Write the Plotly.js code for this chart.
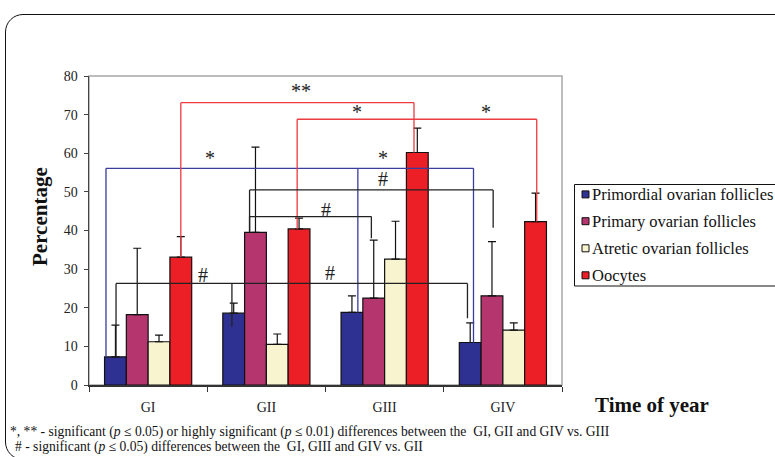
<!DOCTYPE html>
<html>
<head>
<meta charset="utf-8">
<script src="https://cdn.plot.ly/plotly-3.0.1.min.js"></script>
<style>
html,body{margin:0;padding:0;background:#fff;}
#wrap{position:relative;width:775px;height:457px;overflow:hidden;}
#chart{position:absolute;left:0;top:0;width:830px;height:457px;}
#frame{position:absolute;left:5px;top:14px;width:820px;height:444px;border:1.3px solid #111;border-radius:18px;pointer-events:none;}
</style>
</head>
<body>
<div id="wrap"><div id="chart"></div><div id="frame"></div></div>
<script>
// ---- data ----
const categories = ['GI', 'GII', 'GIII', 'GIV'];
const seriesNames = ['Primordial ovarian follicles', 'Primary ovarian follicles', 'Atretic ovarian follicles', 'Oocytes'];
const primordial = [7.3, 18.6, 18.8, 11.0];
const primordialErr = [8.2, 2.6, 4.3, 5.1];
const primary = [18.2, 39.5, 22.5, 23.1];
const primaryErr = [17.2, 22.1, 15.0, 14.0];
const atretic = [11.2, 10.5, 32.6, 14.2];
const atreticErr = [1.7, 2.7, 9.8, 1.9];
const oocytes = [33.1, 40.4, 60.2, 42.3];
const oocytesErr = [5.3, 2.8, 6.3, 7.4];
const yTicks = [0, 10, 20, 30, 40, 50, 60, 70, 80];

// significance brackets: top level, legs [group, series, nudge, bottom level]
const bracketTops = [56.1, 73.1, 68.8, 50.5, 43.6, 26.3];
const bracketLegs = [
  [[0,0,-0.08,7.3],[2,0,0.05,18.8],[3,0,0.028,11.0]],
  [[0,3,0,33.1],[2,3,-0.028,60.2]],
  [[1,3,-0.016,40.4],[3,3,0.01,42.3]],
  [[1,1,-0.05,39.5],[3,1,0.01,40.7]],
  [[1,1,-0.05,39.5],[2,1,-0.02,38.0]],
  [[0,0,0.005,7.3],[1,0,-0.015,15.1],[3,0,-0.023,17.3]]
];
const bracketColors = ['#3a3d9e', '#ee3a42', '#ee3a42', '#222', '#222', '#222'];
const markTexts = ['*', '*', '**', '*', '*', '#', '#', '#', '#'];
const markX = [0.525, 1.989, 1.293, 1.763, 2.856, 1.989, 1.5, 0.464, 1.536];
const markY = [58.9, 58.9, 76.2, 70.6, 70.6, 53.3, 45.3, 28.5, 28.9];
const footnotes = [
  '*, ** - significant (<i>p</i> ≤ 0.05) or highly significant (<i>p</i> ≤ 0.01) differences between the  GI, GII and GIV vs. GIII',
  '# - significant (<i>p</i> ≤ 0.05) differences between the  GI, GIII and GIV vs. GII'
];

// ---- build ----
const colors = ['#2e3192', '#b5366f', '#f8f4cf', '#ec1f27'];
const vals = [primordial, primary, atretic, oocytes];
const errs = [primordialErr, primaryErr, atreticErr, oocytesErr];
const bargap = 0.263;
const bw = (1 - bargap) / 4;
const serif = 'Liberation Serif';
const PW = 473, PH = 309, PL = 89, PB = 385;
const px = v => (v - PL) / PW;
const py = v => (PB - v) / PH;

const traces = vals.map((v, i) => ({
  type: 'bar', name: seriesNames[i], x: categories, y: v, showlegend: false,
  marker: {color: colors[i], line: {color: '#111', width: 1.2}},
  error_y: {type: 'data', array: errs[i], arrayminus: errs[i].map(() => 0), symmetric: false,
            color: '#111', thickness: 1.2, width: 4}
}));

const shapes = [
  {type: 'rect', xref: 'paper', yref: 'paper', x0: 0, x1: 1, y0: 0, y1: 1,
   line: {color: '#a8a8a8', width: 1.5}, layer: 'below'},
  {type: 'rect', xref: 'paper', yref: 'paper', x0: px(574.5), x1: px(820), y0: py(286), y1: py(184.5),
   line: {color: '#111', width: 1}, layer: 'below'}
];
const legendY = [194.4, 221.2, 248.3, 275.3];
seriesNames.forEach((n, i) => {
  shapes.push({type: 'rect', xref: 'paper', yref: 'paper', x0: px(582), x1: px(589),
    y0: py(legendY[i] + 3.5), y1: py(legendY[i] - 3.5), fillcolor: colors[i],
    line: {color: '#111', width: 1}, layer: 'above'});
});
bracketLegs.forEach((legs, k) => {
  const top = bracketTops[k];
  const xs = legs.map(l => l[0] + (l[1] - 1.5) * bw + l[2]);
  let p = 'M' + Math.min(...xs) + ',' + top + ' L' + Math.max(...xs) + ',' + top;
  legs.forEach((l, j) => { p += ' M' + xs[j] + ',' + top + ' L' + xs[j] + ',' + l[3]; });
  shapes.push({type: 'path', xref: 'x', yref: 'y', path: p, line: {color: bracketColors[k], width: 1.3}, layer: 'above'});
});

const annotations = markTexts.map((t, i) => ({
  x: markX[i], y: markY[i], xref: 'x', yref: 'y', text: t, showarrow: false,
  xanchor: 'center', yanchor: 'middle',
  font: {family: serif, size: 20, color: '#222'}
}));
seriesNames.forEach((n, i) => {
  annotations.push({xref: 'paper', yref: 'paper', x: px(589.5), y: py(legendY[i] + 0.5), xanchor: 'left', yanchor: 'middle',
    text: n, showarrow: false, font: {family: serif, size: 16.5, color: '#111'}});
});
annotations.push(
  {xref: 'paper', yref: 'paper', x: px(40), y: py(217), xanchor: 'center', yanchor: 'middle',
   text: '<b>Percentage</b>', textangle: -90, showarrow: false, font: {family: serif, size: 21, color: '#111'}},
  {xref: 'paper', yref: 'paper', x: px(652), y: py(405), xanchor: 'center', yanchor: 'middle',
   text: '<b>Time of year</b>', showarrow: false, font: {family: serif, size: 21, color: '#111'}},
  {xref: 'paper', yref: 'paper', x: px(8), xanchor: 'left', yanchor: 'middle', y: py(432),
   text: footnotes[0], showarrow: false, font: {family: serif, size: 13.6, color: '#111'}},
  {xref: 'paper', yref: 'paper', x: px(13), xanchor: 'left', yanchor: 'middle', y: py(446.5),
   text: footnotes[1], showarrow: false, font: {family: serif, size: 13.6, color: '#111'}}
);

const layout = {
  width: 830, height: 457,
  margin: {l: PL, r: 830 - PL - PW, t: 76, b: 457 - PB},
  paper_bgcolor: '#fff', plot_bgcolor: '#fff',
  barmode: 'group', bargap: bargap, bargroupgap: 0,
  font: {family: serif, color: '#222', size: 13},
  showlegend: false,
  xaxis: {type: 'category', showline: true, linecolor: '#333', linewidth: 1.5, ticks: 'outside',
          tickson: 'boundaries', ticklen: 5, tickcolor: '#333', showgrid: false, zeroline: false,
          tickfont: {family: serif, size: 14, color: '#222'}, ticklabelstandoff: 9},
  yaxis: {range: [0, 80], tickvals: yTicks, showline: true, linecolor: '#444', linewidth: 1.5,
          ticks: 'outside', ticklen: 4, tickcolor: '#444', showgrid: false, zeroline: false,
          tickfont: {family: serif, size: 14, color: '#222'}, ticklabelstandoff: 3},
  shapes: shapes, annotations: annotations
};

Plotly.newPlot('chart', traces, layout, {displayModeBar: false, staticPlot: true});
</script>
</body>
</html>
